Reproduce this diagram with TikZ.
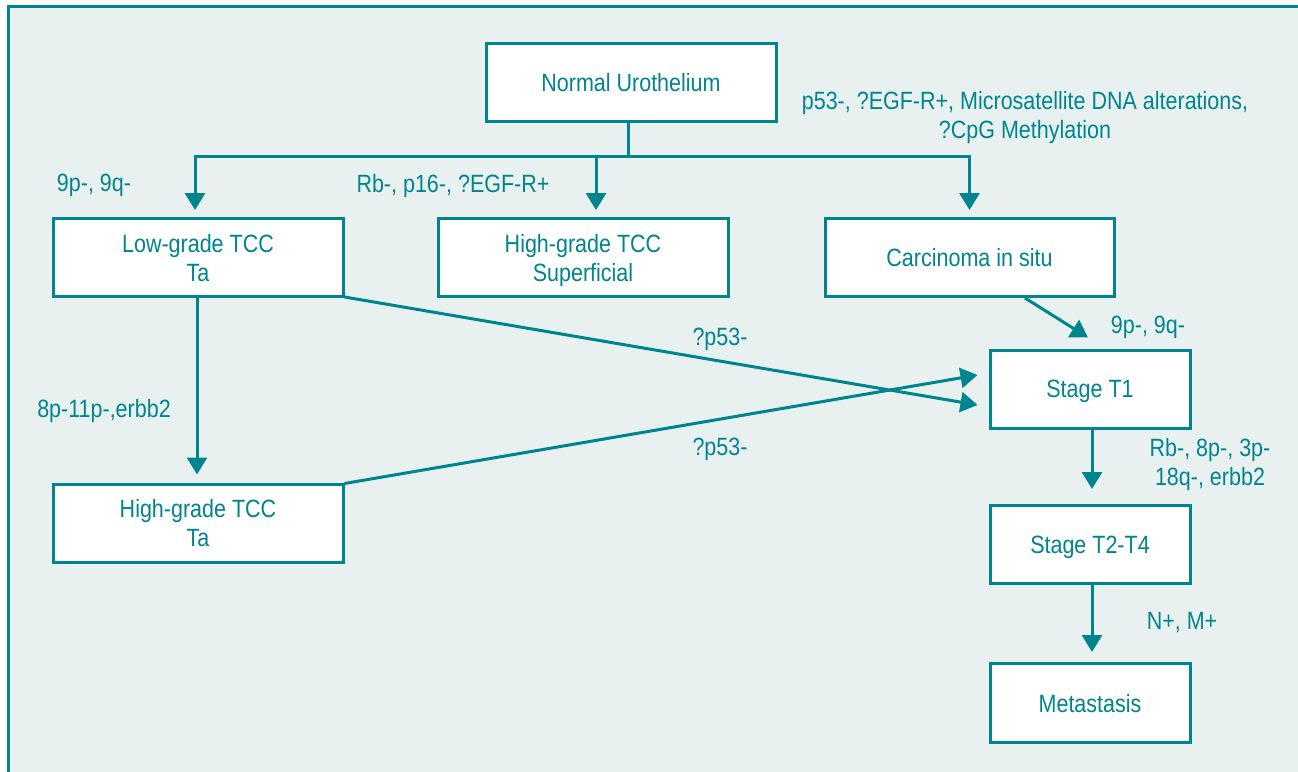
\documentclass[tikz,border=0pt]{standalone}
\usepackage{fontspec}
\setmainfont[FakeStretch=0.86]{Liberation Sans}
\usetikzlibrary{arrows.meta,calc}
\definecolor{teal1}{RGB}{0,132,142}
\definecolor{bgfill}{RGB}{232,241,240}
\begin{document}
\begin{tikzpicture}[x=1pt,y=-1pt, font=\fontsize{25}{29}\selectfont, text=teal1,
  box/.style={draw=teal1, line width=3pt, fill=white, align=center, inner sep=0pt, text depth=0pt},
  lbl/.style={align=center, inner sep=0pt, text depth=0pt},
  conn/.style={draw=teal1, line width=3pt},
  arr/.style={conn, -{Triangle[length=17pt,width=20pt]}}]
\useasboundingbox (0,0) rectangle (1298,771);
\fill[white] (0,0) rectangle (1298,771);
\draw[line width=3pt, draw=teal1, fill=bgfill] (8.5,6.5) rectangle (1320,790);

\node[box, minimum width=290pt, minimum height=78pt] (nu) at (631,82.5) {Normal Urothelium};
\node[box, minimum width=290pt, minimum height=78pt] (low) at (198,257.5) {Low-grade TCC\\Ta};
\node[box, minimum width=290pt, minimum height=78pt] (hs) at (583,257.5) {High-grade TCC\\Superficial};
\node[box, minimum width=289pt, minimum height=78pt] (cis) at (969.5,257.5) {Carcinoma in situ};
\node[box, minimum width=200pt, minimum height=78pt] (t1) at (1090,389) {Stage T1};
\node[box, minimum width=290pt, minimum height=78pt] (hta) at (198,523) {High-grade TCC\\Ta};
\node[box, minimum width=200pt, minimum height=78pt] (t2) at (1090,544.5) {Stage T2-T4};
\node[box, minimum width=200pt, minimum height=79pt] (met) at (1090,703) {Metastasis};

\coordinate (j) at (628,156);
\coordinate (hsin) at ($(hs.north)+(13,0)$);
\draw[conn] (nu.south -| j) -- (j);
\draw[arr, shorten >=7pt] (j) -| ($(low.north)+(-3,0)$);
\draw[arr, shorten >=7pt] (hsin |- j) -- (hsin);
\draw[arr, shorten >=7pt] (j) -| (cis.north);

\draw[arr] ($(low.south east)+(0,-1)$) -- ($(t1.west)+(-11,16)$);
\draw[arr] ($(hta.north east)+(0,1)$) -- ($(t1.west)+(-11,-14)$);
\draw[arr] ($(cis.south)+(55.5,0)$) -- ($(t1.north)+(-2,-11)$);
\draw[arr] ($(low.south)+(-1,0)$) -- ($(hta.north)+(-1,-8)$);
\draw[arr] ($(t1.south)+(2,0)$) -- ($(t2.north)+(2,-15)$);
\draw[arr] ($(t2.south)+(2,0)$) -- ($(met.north)+(2,-10)$);

\node[lbl] (l1) at (94,183) {9p-, 9q-};
\node[lbl] (l2) at (453,183) {Rb-, p16-, ?EGF-R+};
\node[lbl] (l3) at (1025,115) {p53-, ?EGF-R+, Microsatellite DNA alterations,\\?CpG Methylation};
\node[lbl] (l4) at (104,408) {8p-11p-,erbb2};
\node[lbl] (l5) at (720,337) {?p53-};
\node[lbl] (l6) at (720,447) {?p53-};
\node[lbl] (l7) at (1148,325) {9p-, 9q-};
\node[lbl] (l8) at (1210,462) {Rb-, 8p-, 3p-\\18q-, erbb2};
\node[lbl] (l9) at (1182,621) {N+, M+};
\end{tikzpicture}
\end{document}
